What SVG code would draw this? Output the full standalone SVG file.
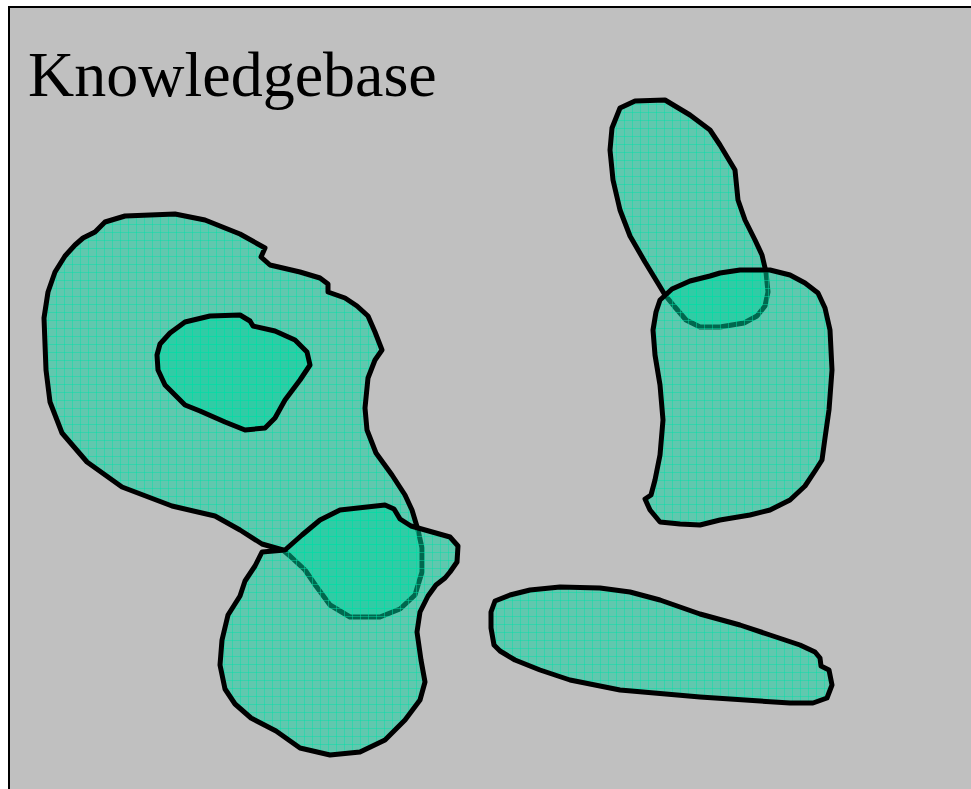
<svg xmlns="http://www.w3.org/2000/svg" width="971" height="789" viewBox="0 0 971 789">
<style>
.blob{fill:url(#grid);stroke:#000;stroke-width:5;stroke-linejoin:round}
.title{font-family:"Liberation Serif","Times New Roman",serif;font-size:64px;fill:#000}
</style>
<defs>
<pattern id="grid" patternUnits="userSpaceOnUse" width="8" height="8">
<rect width="8" height="8" fill="#00cf9c" fill-opacity="0.5"/>
<path d="M0 0.5H8M0.5 0V8" stroke="#00e0a8" stroke-opacity="0.45" stroke-width="1"/>
</pattern>
</defs>
<rect x="0" y="0" width="971" height="789" fill="#fff"/>
<rect x="9" y="7" width="970" height="790" fill="#c0c0c0" stroke="#000" stroke-width="2"/>
<text class="title" x="28" y="96">Knowledgebase</text>
<g id="blobA"><path class="blob" d="M75 245 L83 238 L95 232 L105 222 L125 216 L175 214 L205 220 L240 234 L265 248 L261 257 L270 265 L300 272 L320 278 L328 284 L328 292 L345 298 L357 306 L368 316 L375 332 L382 350 L375 360 L368 378 L365 408 L367 430 L376 453 L392 475 L405 495 L412 510 L418 530 L422 548 L422 572 L415 595 L400 609 L380 617 L350 617 L330 605 L316 586 L305 570 L290 556 L283 550 L262 544 L240 530 L215 516 L172 506 L122 487 L87 462 L62 433 L50 402 L46 370 L44 318 L48 292 L55 272 L65 256 Z"/></g>
<g id="blobB"><path class="blob" d="M160 344 L170 333 L185 322 L210 316 L240 315 L250 321 L253 326 L275 331 L295 340 L307 352 L310 365 L300 380 L285 400 L275 418 L265 428 L245 430 L225 422 L200 411 L185 405 L175 395 L165 385 L158 370 L157 355 Z"/></g>
<g id="blobD"><path class="blob" d="M620 108 L635 101 L665 100 L690 115 L710 130 L720 145 L735 170 L738 200 L745 220 L755 240 L762 255 L766 272 L768 292 L765 306 L757 316 L744 323 L720 327 L700 327 L686 320 L674 306 L665 295 L659 285 L645 262 L630 236 L620 210 L613 180 L610 150 L612 128 Z"/></g>
<g id="blobE"><path class="blob" d="M660 300 L672 289 L690 281 L710 276 L720 273 L740 270 L770 270 L790 275 L805 283 L818 293 L825 308 L830 330 L832 370 L829 410 L825 438 L822 460 L815 471 L805 486 L790 500 L770 510 L750 515 L720 520 L700 525 L680 524 L660 522 L650 510 L645 499 L651 495 L655 480 L660 455 L663 420 L660 385 L655 355 L653 330 L656 312 Z"/></g>
<g id="blobC"><path class="blob" d="M262 552 L285 550 L302 535 L320 520 L340 510 L385 505 L394 509 L400 519 L411 526 L450 537 L458 546 L457 562 L450 572 L445 578 L436 585 L428 596 L420 612 L417 632 L421 660 L425 682 L420 700 L405 720 L385 740 L360 752 L330 755 L300 748 L276 731 L251 718 L235 704 L225 689 L220 665 L222 640 L228 615 L240 596 L245 581 L255 566 Z"/></g>
<g id="blobF"><path class="blob" d="M495 601 L510 595 L530 590 L560 587 L600 588 L630 592 L660 600 L700 614 L740 625 L770 635 L800 645 L815 652 L820 658 L821 666 L829 670 L832 685 L827 698 L813 703 L790 703 L700 697 L620 690 L570 680 L540 670 L515 660 L500 651 L494 645 L491 628 L491 612 Z"/></g>
<g id="connectors"></g>
</svg>
